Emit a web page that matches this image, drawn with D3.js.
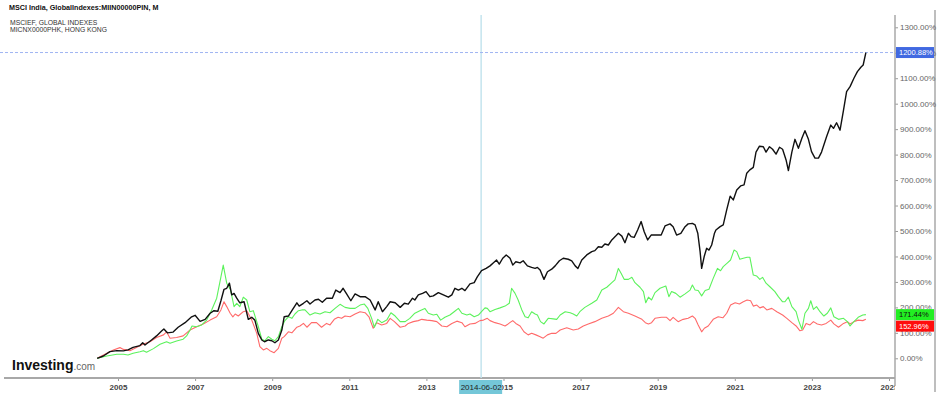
<!DOCTYPE html>
<html>
<head>
<meta charset="utf-8">
<script src="https://cdn.jsdelivr.net/npm/d3@7"></script>
<style>
  body { margin: 0; background: #fff; }
  svg { display: block; font-family: "Liberation Sans", Arial, sans-serif; }
</style>
</head>
<body>
<svg id="chart" width="939" height="394"></svg>
<script>
// data (decimal years, % change since June 2004)
const indiaYears = [2004.46,2004.62,2004.79,2004.97,2005.14,2005.26,2005.39,2005.57,2005.64,2005.70,2005.87,2006.00,2006.13,2006.19,2006.28,2006.43,2006.56,2006.74,2006.91,2007.00,2007.13,2007.26,2007.39,2007.49,2007.59,2007.67,2007.75,2007.82,2007.89,2007.95,2008.01,2008.08,2008.16,2008.27,2008.38,2008.47,2008.55,2008.64,2008.73,2008.80,2008.90,2008.99,2009.07,2009.16,2009.25,2009.31,2009.42,2009.51,2009.64,2009.70,2009.81,2009.90,2009.98,2010.11,2010.20,2010.30,2010.41,2010.56,2010.65,2010.76,2010.84,2010.93,2011.04,2011.15,2011.28,2011.41,2011.54,2011.67,2011.75,2011.86,2011.97,2012.06,2012.19,2012.32,2012.43,2012.53,2012.64,2012.70,2012.79,2012.90,2012.99,2013.09,2013.18,2013.31,2013.44,2013.57,2013.66,2013.74,2013.83,2013.92,2014.00,2014.13,2014.24,2014.32,2014.43,2014.55,2014.65,2014.74,2014.82,2014.89,2014.98,2015.07,2015.17,2015.24,2015.32,2015.43,2015.51,2015.62,2015.73,2015.82,2015.88,2015.95,2016.05,2016.14,2016.25,2016.34,2016.45,2016.55,2016.68,2016.77,2016.86,2016.93,2017.03,2017.16,2017.29,2017.37,2017.46,2017.55,2017.63,2017.72,2017.81,2017.91,2017.98,2018.07,2018.15,2018.24,2018.31,2018.39,2018.48,2018.57,2018.65,2018.74,2018.83,2018.93,2019.09,2019.19,2019.32,2019.40,2019.49,2019.60,2019.71,2019.79,2019.90,2019.97,2020.04,2020.10,2020.14,2020.21,2020.27,2020.33,2020.40,2020.47,2020.51,2020.62,2020.70,2020.79,2020.88,2020.96,2021.05,2021.15,2021.24,2021.31,2021.39,2021.48,2021.55,2021.64,2021.74,2021.81,2021.90,2021.98,2022.07,2022.16,2022.24,2022.33,2022.39,2022.48,2022.56,2022.65,2022.74,2022.82,2022.91,2022.99,2023.08,2023.17,2023.25,2023.38,2023.49,2023.56,2023.64,2023.73,2023.82,2023.90,2023.99,2024.09,2024.18,2024.27,2024.33,2024.40];
const indiaValues = [0,9,26,30,29,33,43,50,61,52,72,88,107,115,100,103,122,140,163,169,145,153,177,187,185,226,271,275,295,249,255,236,218,222,153,161,150,98,72,65,72,69,61,72,111,163,166,187,218,205,216,226,213,229,232,220,236,236,268,258,275,253,226,253,242,242,229,190,222,183,203,222,218,200,216,213,236,229,249,255,262,242,245,258,249,240,249,275,268,275,266,292,297,320,344,353,363,375,386,370,393,406,393,366,379,375,383,363,357,353,357,347,310,340,350,363,383,393,389,383,363,353,386,406,419,423,438,436,449,445,465,480,491,480,454,491,478,475,504,537,497,465,484,484,484,520,528,517,484,491,517,528,530,524,491,419,353,402,432,425,445,490,504,517,524,583,637,622,661,677,681,727,740,750,810,833,831,810,831,821,802,829,821,779,737,810,860,825,864,894,860,812,786,786,810,870,916,903,925,896,975,1047,1067,1100,1126,1143,1152,1200.88];

const efYears = [2004.46,2004.71,2004.97,2005.14,2005.26,2005.39,2005.57,2005.66,2005.74,2005.92,2006.09,2006.26,2006.35,2006.52,2006.69,2006.78,2006.87,2006.92,2007.04,2007.17,2007.30,2007.43,2007.56,2007.67,2007.73,2007.82,2007.92,2008.01,2008.08,2008.16,2008.25,2008.34,2008.42,2008.51,2008.64,2008.73,2008.81,2008.90,2008.99,2009.07,2009.16,2009.25,2009.33,2009.42,2009.51,2009.59,2009.68,2009.77,2009.85,2009.98,2010.11,2010.24,2010.37,2010.50,2010.63,2010.76,2010.89,2011.02,2011.15,2011.28,2011.39,2011.48,2011.58,2011.65,2011.74,2011.84,2011.97,2012.08,2012.19,2012.32,2012.45,2012.57,2012.70,2012.83,2012.96,2013.05,2013.18,2013.27,2013.37,2013.48,2013.61,2013.72,2013.83,2013.92,2014.05,2014.13,2014.24,2014.35,2014.43,2014.52,2014.58,2014.65,2014.78,2014.91,2015.04,2015.15,2015.21,2015.30,2015.38,2015.47,2015.56,2015.64,2015.73,2015.82,2015.88,2015.96,2016.05,2016.16,2016.29,2016.38,2016.47,2016.60,2016.73,2016.81,2016.90,2016.98,2017.11,2017.29,2017.42,2017.55,2017.68,2017.81,2017.89,2017.98,2018.05,2018.13,2018.24,2018.33,2018.41,2018.54,2018.63,2018.69,2018.76,2018.84,2018.93,2019.06,2019.21,2019.29,2019.36,2019.47,2019.58,2019.71,2019.84,2019.90,2019.97,2020.05,2020.14,2020.23,2020.33,2020.44,2020.55,2020.63,2020.70,2020.81,2020.89,2020.98,2021.05,2021.13,2021.22,2021.32,2021.39,2021.48,2021.57,2021.65,2021.72,2021.81,2021.91,2022.04,2022.13,2022.24,2022.30,2022.39,2022.48,2022.59,2022.65,2022.74,2022.82,2022.91,2022.97,2023.04,2023.12,2023.21,2023.31,2023.40,2023.49,2023.57,2023.69,2023.82,2023.92,2023.99,2024.09,2024.20,2024.32,2024.40];
const efValues = [0,9,16,16,13,20,26,30,24,38,55,65,59,68,75,88,111,127,124,131,150,190,236,320,366,295,268,203,216,203,240,229,183,187,124,75,69,85,75,69,85,124,148,163,157,174,187,190,190,170,179,174,183,179,196,212,200,196,196,209,213,196,157,122,153,140,150,179,166,144,144,157,177,187,196,177,170,173,150,161,170,183,196,177,170,174,163,170,183,198,196,183,192,198,205,216,275,255,229,192,163,159,183,174,170,144,135,157,155,153,170,183,179,174,166,183,200,216,229,268,279,297,308,353,334,310,310,318,297,279,262,218,240,229,258,275,284,242,262,255,240,253,268,288,268,266,245,266,271,314,353,344,360,375,386,425,419,389,393,397,397,327,323,310,318,295,281,262,242,222,222,240,203,183,150,114,177,196,226,192,203,183,166,177,198,163,153,157,144,127,144,161,170,171.44];

const hkYears = [2004.46,2004.71,2004.88,2005.05,2005.14,2005.31,2005.49,2005.66,2005.83,2006.00,2006.18,2006.26,2006.35,2006.52,2006.69,2006.87,2007.04,2007.21,2007.39,2007.56,2007.67,2007.75,2007.82,2007.91,2007.98,2008.04,2008.12,2008.25,2008.34,2008.47,2008.60,2008.68,2008.77,2008.86,2008.94,2009.05,2009.16,2009.25,2009.31,2009.42,2009.51,2009.64,2009.72,2009.81,2009.90,2010.02,2010.15,2010.28,2010.41,2010.50,2010.61,2010.71,2010.80,2010.89,2011.02,2011.15,2011.28,2011.41,2011.51,2011.62,2011.71,2011.84,2011.97,2012.06,2012.17,2012.32,2012.45,2012.53,2012.66,2012.79,2012.88,2013.01,2013.14,2013.27,2013.40,2013.53,2013.66,2013.79,2013.92,2014.00,2014.13,2014.26,2014.39,2014.48,2014.58,2014.65,2014.78,2014.91,2015.04,2015.12,2015.24,2015.32,2015.43,2015.53,2015.64,2015.73,2015.84,2015.95,2016.03,2016.14,2016.25,2016.36,2016.47,2016.64,2016.81,2016.94,2017.07,2017.20,2017.37,2017.55,2017.72,2017.85,2017.98,2018.11,2018.24,2018.41,2018.59,2018.68,2018.76,2018.84,2018.93,2019.10,2019.23,2019.32,2019.40,2019.53,2019.66,2019.79,2019.90,2019.97,2020.05,2020.14,2020.21,2020.31,2020.44,2020.57,2020.69,2020.79,2020.89,2021.01,2021.12,2021.22,2021.32,2021.41,2021.48,2021.57,2021.65,2021.74,2021.83,2021.96,2022.09,2022.24,2022.35,2022.48,2022.59,2022.69,2022.76,2022.85,2022.95,2023.04,2023.14,2023.25,2023.37,2023.49,2023.57,2023.69,2023.82,2023.92,2023.99,2024.09,2024.20,2024.32,2024.40];
const hkValues = [0,20,33,42,35,30,43,56,65,82,92,104,79,82,88,111,124,135,150,163,190,222,203,177,163,174,166,183,187,150,98,46,33,39,30,22,39,79,85,104,100,122,127,137,122,140,140,122,137,131,153,161,157,166,163,174,183,179,163,118,140,131,137,157,144,122,127,137,144,148,153,150,148,144,127,124,137,146,140,124,135,137,148,150,157,148,140,135,127,135,148,137,127,104,92,98,92,85,79,92,98,98,111,120,111,115,127,135,144,157,166,177,200,183,177,166,153,140,135,140,157,161,161,148,161,144,153,157,166,157,131,104,118,127,153,163,159,177,209,218,213,222,229,226,205,209,198,203,190,196,183,170,157,140,127,108,111,137,131,144,135,131,137,150,135,122,137,144,135,144,150,148,152.96];

const yTicks = [0,100,200,300,400,500,600,700,800,900,1000,1100,1200,1300];
const xTicks = [2005,2007,2009,2011,2013,2015,2017,2019,2021,2023,2025];

const title = 'MSCI India, GlobalIndexes:MIIN00000PIN, M';
const legendLines = ['MSCIEF, GLOBAL INDEXES', 'MICNX0000PHK, HONG KONG'];
const cursorYear = 2014.42;
const cursorLabel = '2014-06-02';

const series = [
  { name: 'india', years: indiaYears, values: indiaValues, color: '#111111', box: '#4169e1', text: '#ffffff' },
  { name: 'ef', years: efYears, values: efValues, color: '#5cf25c', box: '#22ee22', text: '#111111' },
  { name: 'hk', years: hkYears, values: hkValues, color: '#ff6a6a', box: '#ff0d0d', text: '#ffffff' }
];

const axisX = 895;
const axisY = 378;

const svg = d3.select('#chart');

const x = d3.scaleLinear().domain([2005, 2025]).range([118, 889]);
const y = d3.scaleLinear().domain([0, 1300]).range([358.3, 27.3]);

svg.append('defs').append('clipPath').attr('id', 'plotclip')
  .append('rect').attr('x', 0).attr('y', 0).attr('width', axisX).attr('height', 394);

// right frame line
svg.append('line')
  .attr('x1', 935).attr('x2', 935).attr('y1', 10).attr('y2', 392)
  .attr('stroke', '#a8a8a8').attr('stroke-width', 1.5);

// bottom axis (labels clipped at the price axis, like the original)
const xAxis = svg.append('g')
  .attr('clip-path', 'url(#plotclip)')
  .append('g')
  .attr('transform', `translate(0,${axisY})`)
  .call(d3.axisBottom(x).tickValues(xTicks).tickFormat(d3.format('d')).tickSize(3).tickPadding(3));
xAxis.select('.domain').remove();
xAxis.selectAll('.tick line').attr('stroke', '#999');
xAxis.selectAll('.tick text')
  .attr('fill', '#444').style('font-size', '8px').style('font-weight', 'bold')
  .style('font-family', '"Liberation Sans", Arial, sans-serif');
svg.append('line')
  .attr('x1', 4).attr('x2', axisX).attr('y1', axisY).attr('y2', axisY)
  .attr('stroke', '#a8a8a8').attr('stroke-width', 2);

// right axis
const yAxis = svg.append('g')
  .attr('transform', `translate(${axisX},0)`)
  .call(d3.axisRight(y).tickValues(yTicks).tickFormat(d => d.toFixed(2) + '%').tickSize(3).tickPadding(2));
yAxis.select('.domain').remove();
yAxis.selectAll('.tick line').attr('stroke', '#999');
yAxis.selectAll('.tick text')
  .attr('fill', '#666').style('font-size', '8px')
  .style('font-family', '"Liberation Sans", Arial, sans-serif');
svg.append('line')
  .attr('x1', axisX).attr('x2', axisX).attr('y1', 15).attr('y2', 386)
  .attr('stroke', '#a8a8a8').attr('stroke-width', 1.5);

// crosshair
svg.append('line')
  .attr('x1', x(cursorYear)).attr('x2', x(cursorYear)).attr('y1', 15).attr('y2', axisY)
  .attr('stroke', '#c4e4ee').attr('stroke-width', 1.5);
svg.append('line')
  .attr('x1', 0).attr('x2', axisX)
  .attr('y1', y(indiaValues[indiaValues.length - 1])).attr('y2', y(indiaValues[indiaValues.length - 1]))
  .attr('stroke', '#9fb4f2').attr('stroke-width', 1).attr('stroke-dasharray', '3,2');

// lines (red, green, then black on top)
const line = d3.line().x(d => x(d[0])).y(d => y(d[1]));
[series[2], series[1], series[0]].forEach(s => {
  svg.append('path')
    .datum(s.years.map((t, i) => [t, s.values[i]]))
    .attr('fill', 'none')
    .attr('stroke', s.color)
    .attr('stroke-width', s.name === 'india' ? 1.4 : 1.1)
    .attr('stroke-linejoin', 'round')
    .attr('d', line);
});

// last value boxes on the right axis
let prevBottom = -Infinity;
const boxH = 11;
series.slice().sort((a, b) => y(a.values[a.values.length - 1]) - y(b.values[b.values.length - 1]))
  .forEach(s => {
    const v = s.values[s.values.length - 1];
    let top = y(v) - boxH / 2;
    if (top < prevBottom) top = prevBottom + 0.5;
    prevBottom = top + boxH;
    svg.append('rect')
      .attr('x', axisX + 1).attr('y', top).attr('width', 38).attr('height', boxH)
      .attr('fill', s.box);
    svg.append('text')
      .attr('x', axisX + 4).attr('y', top + 8)
      .attr('fill', s.text).style('font-size', '7.5px')
      .text(v.toFixed(2) + '%');
  });

// date box at the cursor
svg.append('rect')
  .attr('x', x(cursorYear) - 22).attr('y', 380).attr('width', 43).attr('height', 14)
  .attr('fill', '#74c7d8');
svg.append('text')
  .attr('x', x(cursorYear)).attr('y', 390).attr('text-anchor', 'middle')
  .attr('fill', '#222').style('font-size', '8px')
  .text(cursorLabel);

// title and legend
svg.append('text')
  .attr('x', 9).attr('y', 10)
  .style('font-size', '7.2px').style('font-weight', 'bold').attr('fill', '#111')
  .text(title);
svg.selectAll('.legend-line')
  .data(legendLines)
  .enter().append('text')
  .attr('class', 'legend-line')
  .attr('x', 10).attr('y', (d, i) => 25 + i * 6.5)
  .style('font-size', '6.8px').attr('fill', '#333')
  .text(d => d);

// watermark
const logo = svg.append('text').attr('x', 12).attr('y', 370);
logo.append('tspan').text('Investing').style('font-size', '14px').style('font-weight', 'bold').attr('fill', '#111');
logo.append('tspan').text('.com').style('font-size', '10px').attr('fill', '#666');
</script>
</body>
</html>
